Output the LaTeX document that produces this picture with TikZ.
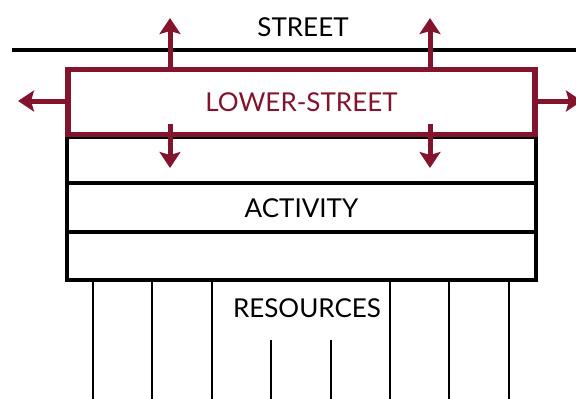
\documentclass[tikz,border=0pt]{standalone}
\usepackage{fontspec}
\setmainfont{Lato}
\usetikzlibrary{arrows.meta,positioning}
\definecolor{streetRed}{RGB}{130,20,45}
\tikzset{
  layer/.style  = {draw=black, line width=3.5pt, minimum width=469pt,
                   inner sep=0pt, font=\fontsize{26}{30}\selectfont},
  lowbox/.style = {draw=streetRed, line width=5.5pt, minimum width=467pt,
                   minimum height=65pt, text=streetRed, inner sep=0pt,
                   font=\fontsize{26}{30}\selectfont},
  lbl/.style    = {font=\fontsize{26}{30}\selectfont, inner sep=0pt},
  flow/.style   = {-{Stealth[length=16pt,width=21pt,inset=3pt]}, streetRed, line width=5pt},
  leg/.style    = {line width=1.5pt}
}

\begin{document}
\begin{tikzpicture}[x=1pt,y=-1pt]
\clip (0,0) rectangle (576,399);
% street level
\draw[line width=4pt] (12,50) coordinate (streetL) -- (580,50) coordinate (streetR);
\node[lbl] (street) at (303,27) {STREET};
% layers below
\node[layer, minimum height=46pt] (layA) at (301.5,160) {};
\node[layer, minimum height=49pt] (layB) at (301.5,208) {ACTIVITY};
\node[layer, minimum height=48pt] (layC) at (301.5,256) {};
\node[lowbox] (lower) at (301.5,102) {LOWER-STREET};
% flows out of the lower street
\foreach \x [count=\i] in {170,430} {
  \coordinate (up\i) at (\x,18);
  \coordinate (dn\i) at (\x,168);
  \draw[flow] (lower.north -| up\i) -- (up\i);
  \draw[flow] (\x,124) -- (dn\i);
}
\coordinate (outL) at (18,101);
\coordinate (outR) at (582,101);
\draw[flow] (lower.west |- outL) -- (outL);
\draw[flow] (lower.east |- outR) -- (outR);
% resources
\node[lbl] (res) at (307,308) {RESOURCES};
\foreach \x in {93,152,212,390,449,509}
  \draw[leg] (layC.south -| \x,0) -- (\x,399);
\foreach \x in {271,331}
  \draw[leg] (\x,340) -- (\x,399);
\end{tikzpicture}
\end{document}
